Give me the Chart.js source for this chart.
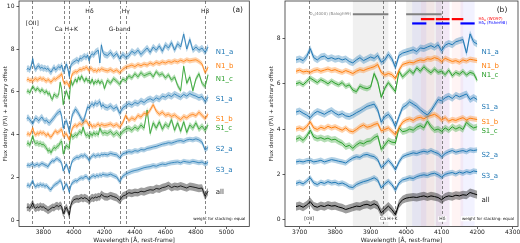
<!DOCTYPE html>
<html>
<head>
<meta charset="utf-8">
<script src="https://cdn.jsdelivr.net/npm/chart.js@4.4.0/dist/chart.umd.min.js"></script>
<style>
  html, body { margin: 0; padding: 0; background: #fff; width: 520px; height: 243px; overflow: hidden; position: relative; }
  #ca { position: absolute; left: 0; top: 0; }
  #cb { position: absolute; left: 258px; top: 0; }
</style>
</head>
<body>
<canvas id="ca" width="258" height="243"></canvas>
<canvas id="cb" width="270" height="243"></canvas>
<script>
// wavelength grid (rest-frame, Angstrom)
const wave = [
  3690,3700,3710,3720,3730,3740,3750,3760,3770,3780,
  3790,3800,3810,3820,3830,3840,3850,3860,3870,3880,
  3890,3900,3910,3920,3930,3940,3950,3960,3970,3980,
  3990,4000,4010,4020,4030,4040,4050,4060,4070,4080,
  4090,4100,4110,4120,4130,4140,4150,4160,4170,4180,
  4190,4200,
  4220,4240,4260,4280,4300,4320,4340,4360,4380,4400,
  4420,4440,4460,4480,4500,4520,4540,4560,4580,4600,
  4620,4640,4660,4680,4700,4720,4740,4760,4780,4800,
  4820,4840,4860,4880
];

// stacked spectra + offsets
const n1a = [
  7.05,7.10,7.02,7.20,7.55,7.15,7.05,7.18,7.22,7.10,
  7.15,7.08,7.12,7.05,7.10,6.98,6.92,7.05,7.15,7.02,
  7.10,7.18,7.12,7.25,6.95,7.05,7.30,7.10,6.72,7.25,
  7.35,7.40,7.45,7.50,7.42,7.58,7.55,7.62,7.68,7.60,
  7.72,7.45,7.70,7.78,7.72,7.85,7.90,7.95,7.35,8.20,
  7.85,7.75,
  7.70,7.85,7.65,7.80,7.55,7.75,7.62,7.70,7.90,7.80,
  7.95,7.75,7.90,8.05,7.85,8.10,7.95,8.15,7.90,8.20,
  8.05,8.30,7.95,8.25,8.10,8.70,8.00,8.45,7.95,8.10,
  7.95,8.05,7.85,8.10
];
const n1b = [
  6.55,6.60,6.52,6.55,6.50,6.58,6.62,6.55,6.60,6.65,
  6.58,6.62,6.55,6.50,6.58,6.52,6.45,6.55,6.62,6.58,
  6.65,6.70,6.75,6.85,6.50,6.38,6.45,6.40,6.22,6.60,
  6.85,6.90,6.95,6.92,7.00,7.05,7.02,7.10,7.08,7.15,
  7.10,6.98,7.12,7.05,6.98,7.02,6.95,7.05,7.00,7.08,
  7.05,7.02,
  6.98,7.05,6.95,7.02,6.90,7.05,7.15,7.20,7.25,7.18,
  7.28,7.22,7.30,7.25,7.35,7.28,7.38,7.32,7.40,7.35,
  7.42,7.38,7.45,7.40,7.48,7.42,7.50,7.45,7.48,7.50,
  7.42,7.30,6.90,7.15
];
const n1c = [
  6.00,6.05,5.95,6.10,6.25,6.15,6.05,6.18,6.10,6.00,
  6.12,6.02,5.95,6.05,5.88,5.95,5.72,5.65,5.90,5.82,
  5.78,5.85,6.45,6.10,5.40,5.80,6.05,5.85,5.65,6.55,
  6.30,6.45,6.60,6.45,6.70,6.55,6.75,6.60,6.48,6.65,
  6.50,6.55,6.40,6.60,6.35,6.50,6.42,6.55,6.38,6.50,
  6.45,6.15,
  6.55,6.40,6.62,6.50,6.35,6.60,6.52,6.75,6.65,6.85,
  6.70,6.90,6.75,6.82,6.88,6.70,6.95,6.78,6.85,6.65,
  6.80,6.55,6.70,6.30,6.05,7.20,6.40,6.70,6.05,6.60,
  6.85,6.40,6.25,6.80
];
const s1a = [
  4.75,4.80,4.70,4.62,4.50,4.68,4.78,4.72,4.65,4.75,
  4.82,4.70,4.62,4.68,4.58,4.55,4.62,4.72,4.80,4.90,
  5.00,5.05,5.10,4.85,4.30,4.55,4.65,4.45,4.10,4.55,
  4.95,5.05,5.20,5.10,5.00,4.85,4.72,4.62,4.80,5.05,
  5.30,5.25,5.38,5.45,5.35,5.50,5.42,5.48,5.55,5.30,
  5.40,5.30,
  5.25,5.35,5.20,5.30,5.00,5.25,5.35,5.45,5.38,5.50,
  5.45,5.58,5.50,5.62,5.68,5.60,5.72,5.65,5.80,5.75,
  5.85,5.78,5.90,5.82,5.75,5.88,5.80,5.92,5.85,5.80,
  5.72,5.78,5.55,5.75
];
const s1b = [
  4.00,4.05,3.98,4.10,4.32,4.05,3.98,4.08,4.02,4.12,
  4.05,4.10,4.02,3.95,4.05,3.92,3.88,3.98,4.10,4.18,
  4.08,4.12,4.20,4.25,3.92,3.98,4.05,3.90,3.75,4.05,
  4.30,4.40,4.45,4.38,4.48,4.52,4.45,4.55,4.60,4.65,
  4.55,4.40,4.50,4.35,4.42,4.38,4.45,4.50,4.40,4.48,
  4.45,4.42,
  4.45,4.50,4.40,4.48,4.35,4.55,4.90,4.65,4.78,4.70,
  4.90,4.82,5.00,4.95,5.15,5.40,5.10,4.95,5.05,4.90,
  4.95,4.85,4.92,4.80,4.70,4.85,4.78,4.90,4.95,4.88,
  5.05,4.90,4.75,4.95
];
const s1c = [
  3.55,3.62,3.50,3.68,3.95,3.65,3.58,3.62,3.55,3.60,
  3.52,3.55,3.45,3.38,3.22,3.28,3.15,3.30,3.40,3.35,
  3.45,3.48,3.62,3.70,3.10,3.30,3.50,3.42,3.40,4.05,
  3.88,3.92,4.00,3.95,4.08,4.15,4.05,4.35,4.10,3.95,
  4.00,3.90,4.05,3.95,4.10,4.00,4.08,3.98,4.30,4.15,
  4.05,4.10,
  4.05,4.15,3.98,4.10,3.95,4.15,4.25,4.30,4.20,4.35,
  4.25,4.45,4.30,5.15,4.05,4.55,4.30,4.60,4.25,4.50,
  4.35,4.70,4.20,4.55,4.15,4.60,4.10,4.45,4.30,4.55,
  4.25,4.40,4.20,4.45
];
const s2a = [
  2.55,2.58,2.55,2.60,2.62,2.55,2.58,2.62,2.55,2.60,
  2.65,2.62,2.58,2.55,2.50,2.62,2.72,2.78,2.75,2.85,
  2.88,2.82,2.78,2.65,2.30,2.45,2.62,2.45,2.20,2.55,
  2.78,2.85,2.90,2.95,2.92,2.98,3.02,2.98,3.05,2.98,
  2.92,2.78,2.92,3.00,3.05,2.98,3.02,3.05,3.00,3.08,
  3.05,3.08,
  3.05,3.12,3.08,3.05,2.92,3.10,3.15,3.20,3.18,3.25,
  3.22,3.30,3.28,3.35,3.38,3.42,3.45,3.50,3.55,3.58,
  3.62,3.60,3.65,3.70,3.72,3.68,3.75,3.78,3.75,3.80,
  3.75,3.65,3.28,3.40
];
const s3a = [
  1.60,1.65,1.58,1.70,1.85,1.62,1.55,1.65,1.60,1.68,
  1.62,1.65,1.58,1.62,1.55,1.45,1.42,1.55,1.62,1.68,
  1.72,1.78,1.85,1.75,1.40,1.58,1.70,1.55,1.30,1.62,
  1.75,1.80,1.85,1.82,1.90,1.95,1.98,1.95,2.02,2.05,
  1.98,1.88,2.00,2.05,2.08,2.02,2.10,2.05,2.12,2.08,
  2.15,2.12,
  2.10,2.15,2.08,2.02,1.80,2.05,2.15,2.22,2.28,2.32,
  2.35,2.40,2.45,2.48,2.50,2.55,2.52,2.58,2.62,2.60,
  2.65,2.68,2.70,2.72,2.68,2.75,2.72,2.70,2.75,2.72,
  2.68,2.72,2.62,2.70
];
const allStack = [
  0.58,0.62,0.55,0.65,0.80,0.60,0.55,0.62,0.58,0.65,
  0.60,0.62,0.56,0.52,0.45,0.50,0.55,0.60,0.58,0.65,
  0.68,0.62,0.70,0.62,0.30,0.45,0.60,0.45,0.22,0.70,
  0.88,0.95,0.98,1.00,0.98,1.02,1.05,1.00,1.05,1.02,
  0.98,0.88,1.00,1.05,1.02,1.08,1.05,1.10,1.08,1.20,
  1.15,1.10,
  1.08,1.15,1.10,1.05,0.92,1.12,1.18,1.28,1.25,1.30,
  1.28,1.35,1.32,1.38,1.42,1.40,1.48,1.45,1.52,1.55,
  1.62,1.52,1.58,1.55,1.60,1.55,1.50,1.58,1.55,1.52,
  1.48,1.50,1.12,1.35
];

const names = ['N1_a','N1_b','N1_c','S1_a','S1_b','S1_c','S2_a','S3_a','all'];
const spectra = [n1a, n1b, n1c, s1a, s1b, s1c, s2a, s3a, allStack];
const errHalf = [0.15, 0.12, 0.12, 0.15, 0.12, 0.14, 0.12, 0.12, 0.18];
const lineColors = ['#1f77b4','#ff7f0e','#2ca02c','#1f77b4','#ff7f0e','#2ca02c','#1f77b4','#1f77b4','#000000'];
const bandColors = ['rgba(31,119,180,0.35)','rgba(255,127,14,0.35)','rgba(44,160,44,0.35)',
                    'rgba(31,119,180,0.35)','rgba(255,127,14,0.35)','rgba(44,160,44,0.35)',
                    'rgba(31,119,180,0.35)','rgba(31,119,180,0.35)','rgba(0,0,0,0.38)'];

// where the name of each spectrum is written
const labelYA = [7.86, 7.20, 6.59, 5.64, 4.72, 4.31, 3.32, 2.34, 1.29];
const labelYB = [7.41, 6.78, 6.37, 4.96, 4.29, 3.92, 2.83, 1.91, 0.85];

// ticks
const xTicksA = [3800, 4000, 4200, 4400, 4600, 4800, 5000];
const yTicksA = [0, 2, 4, 6, 8, 10];
const xTicksB = [3700, 3800, 3900, 4000, 4100, 4200, 4300];
const yTicksB = [0, 2, 4, 6, 8];

// spectral features
const linesA = [3727, 3934, 3969, 4102, 4300, 4340, 4861];
const linesB = [3727, 3934, 3969, 4102];
const featA = [
  {t: '[OII]', x: 3727, y: 9.22}, {t: 'Ca H+K', x: 3951, y: 8.94}, {t: 'H\u03b4', x: 4102, y: 9.78},
  {t: 'G-band', x: 4300, y: 8.94}, {t: 'H\u03b3', x: 4340, y: 9.78}, {t: 'H\u03b2', x: 4861, y: 9.78}
];
const featB = [{t: '[OII]', x: 3727}, {t: 'Ca H+K', x: 3951}, {t: 'H\u03b4', x: 4102}];

// index windows
const balogh99 = [[3850, 3950], [4000, 4100]];
const wo97 = [[4041.6, 4079.75], [4083.5, 4122.25], [4128.5, 4161]];
const fisher98 = [[4017, 4057], [4083.5, 4122.25], [4153, 4193]];

const FONT = '"DejaVu Sans", sans-serif';
Chart.defaults.font.family = FONT;

function buildDatasets(maxW, lw) {
  const ds = [];
  spectra.forEach((vals, i) => {
    const keep = wave.map((w, j) => j).filter(j => wave[j] <= maxW);
    const hi = keep.map(j => ({x: wave[j], y: vals[j] + errHalf[i]}));
    const lo = keep.map(j => ({x: wave[j], y: vals[j] - errHalf[i]}));
    const mid = keep.map(j => ({x: wave[j], y: vals[j]}));
    ds.push({data: hi, borderColor: 'rgba(0,0,0,0)', borderWidth: 0, pointRadius: 0, fill: false, backgroundColor: bandColors[i]});
    ds.push({data: lo, borderColor: 'rgba(0,0,0,0)', borderWidth: 0, pointRadius: 0, fill: '-1', backgroundColor: bandColors[i]});
    ds.push({data: mid, borderColor: lineColors[i], borderWidth: lw, pointRadius: 0, fill: false});
  });
  return ds;
}

function boxText(ctx, text, x, y, size, color, align) {
  ctx.font = size + 'px ' + FONT;
  const w = ctx.measureText(text).width;
  const x0 = align === 'left' ? x : align === 'right' ? x - w : x - w / 2;
  ctx.fillStyle = '#fff';
  ctx.fillRect(x0 - 1, y - size * 0.62, w + 2, size * 1.24);
  ctx.fillStyle = color;
  ctx.textAlign = 'left';
  ctx.textBaseline = 'middle';
  ctx.fillText(text, x0, y);
}

function richText(ctx, parts, x, y, size, color, align) {
  let total = 0;
  parts.forEach(p => { ctx.font = (p.sub ? size * 0.7 : size) + 'px ' + FONT; total += ctx.measureText(p.t).width; });
  let cx = align === 'right' ? x - total : x;
  ctx.fillStyle = color;
  ctx.textAlign = 'left';
  ctx.textBaseline = 'middle';
  parts.forEach(p => {
    const s = p.sub ? size * 0.7 : size;
    ctx.font = s + 'px ' + FONT;
    ctx.fillText(p.t, cx, p.sub ? y + size * 0.3 : y);
    cx += ctx.measureText(p.t).width;
  });
}

function decor(cfg) {
  return {
    id: 'decor' + cfg.tag,
    beforeDatasetsDraw(chart) {
      const {ctx, chartArea: a, scales: {x}} = chart;
      ctx.save();
      ctx.beginPath();
      ctx.rect(a.left, a.top, a.right - a.left, a.bottom - a.top);
      ctx.clip();
      (cfg.spans || []).forEach(s => {
        ctx.fillStyle = s.color;
        s.ranges.forEach(r => {
          const x0 = x.getPixelForValue(r[0]), x1 = x.getPixelForValue(r[1]);
          ctx.fillRect(x0, a.top, x1 - x0, a.bottom - a.top);
        });
      });
      ctx.strokeStyle = '#666';
      ctx.lineWidth = 0.8;
      ctx.setLineDash([3, 2]);
      cfg.lines.forEach(w => {
        const px = Math.round(x.getPixelForValue(w)) + 0.5;
        ctx.beginPath();
        ctx.moveTo(px, a.top);
        ctx.lineTo(px, a.bottom);
        ctx.stroke();
      });
      ctx.restore();
    },
    afterDatasetsDraw(chart) {
      const {ctx, chartArea: a, scales: {x, y}} = chart;
      ctx.save();
      cfg.feats.forEach(f => boxText(ctx, f.t, x.getPixelForValue(f.x), y.getPixelForValue(f.y), cfg.featSize, '#222', 'center'));
      names.forEach((n, i) => {
        ctx.font = '7px ' + FONT;
        ctx.fillStyle = lineColors[i] === '#000000' ? '#222' : lineColors[i];
        ctx.textAlign = 'left';
        ctx.textBaseline = 'middle';
        ctx.fillText(n, x.getPixelForValue(cfg.labelX), y.getPixelForValue(cfg.labelY[i]));
      });
      (cfg.bars || []).forEach(b => {
        ctx.strokeStyle = b.color;
        ctx.lineWidth = b.width;
        const py = y.getPixelForValue(b.y);
        b.ranges.forEach(r => {
          ctx.beginPath();
          ctx.moveTo(x.getPixelForValue(r[0]), py);
          ctx.lineTo(x.getPixelForValue(r[1]), py);
          ctx.stroke();
        });
      });
      (cfg.rich || []).forEach(r => richText(ctx, r.parts, x.getPixelForValue(r.x), y.getPixelForValue(r.y), r.size, r.color, r.align));
      boxText(ctx, 'weight for stacking: equal', a.right - 4, a.bottom - 7.8, 4, '#111', 'right');
      ctx.font = '7.5px ' + FONT;
      ctx.fillStyle = '#222';
      ctx.textAlign = 'center';
      ctx.textBaseline = 'middle';
      ctx.fillText(cfg.tag, a.right - cfg.tagDx, a.top + 9);
      ctx.strokeStyle = '#333';
      ctx.lineWidth = 0.8;
      ctx.strokeRect(a.left, a.top, a.right - a.left, a.bottom - a.top);
      ctx.restore();
    }
  };
}

function makeChart(canvas, cfg) {
  return new Chart(canvas, {
    type: 'line',
    data: {datasets: buildDatasets(cfg.maxW, cfg.lw)},
    options: {
      responsive: false,
      animation: false,
      devicePixelRatio: 1,
      layout: {padding: cfg.pad},
      elements: {line: {tension: 0}},
      plugins: {legend: {display: false}, tooltip: {enabled: false}},
      scales: {
        x: {
          type: 'linear', min: cfg.xMin, max: cfg.xMax,
          afterBuildTicks: s => { s.ticks = cfg.xTicks.map(v => ({value: v})); },
          afterFit: s => { s.height = 16.5; s.paddingLeft = 0; s.paddingRight = 0; },
          grid: {display: true, drawOnChartArea: false, drawTicks: true, tickLength: 2.5, color: '#333', lineWidth: 0.8},
          border: {display: false},
          ticks: {font: {size: 6}, color: '#222', padding: 0, maxRotation: 0, autoSkip: false, callback: v => String(v)},
          title: {display: true, text: 'Wavelength [\u00c5, rest-frame]', font: {size: 6, lineHeight: 1}, color: '#222', padding: {top: 0, bottom: 0}}
        },
        y: {
          type: 'linear', min: cfg.yMin, max: cfg.yMax,
          afterBuildTicks: s => { s.ticks = cfg.yTicks.map(v => ({value: v})); },
          afterFit: s => { s.width = cfg.yWidth; s.paddingTop = 0; s.paddingBottom = 0; },
          grid: {display: true, drawOnChartArea: false, drawTicks: true, tickLength: 2.5, color: '#333', lineWidth: 0.8},
          border: {display: false},
          ticks: {font: {size: 6}, color: '#222', padding: 2, callback: v => String(v)},
          title: {display: true, text: 'Flux density (F\u03bb) + arbitrary offset', font: {size: 5.5, lineHeight: 1.2}, color: '#222', padding: {top: cfg.yTitlePad, bottom: 0}}
        }
      }
    },
    plugins: [decor(cfg)]
  });
}

makeChart(document.getElementById('ca'), {
  tag: '(a)', tagDx: 11.5, maxW: 5000, lw: 0.8,
  pad: {left: 0, right: 8.7, top: 1, bottom: 0},
  xMin: 3640, xMax: 5150, yMin: -0.3, yMax: 10.25,
  xTicks: xTicksA, yTicks: yTicksA, yWidth: 19, yTitlePad: 2.5,
  lines: linesA, feats: featA, featSize: 6,
  labelX: 4930, labelY: labelYA
});

makeChart(document.getElementById('cb'), {
  tag: '(b)', tagDx: 16, maxW: 4200, lw: 1,
  pad: {left: 0, right: 10, top: 1, bottom: 0},
  xMin: 3659, xMax: 4315, yMin: -0.3, yMax: 9.65,
  xTicks: xTicksB, yTicks: yTicksB, yWidth: 27, yTitlePad: 10.4,
  lines: linesB,
  feats: featB.map(f => ({t: f.t, x: f.x, y: 0.03})), featSize: 4.5,
  labelX: 4212, labelY: labelYB,
  spans: [
    {ranges: balogh99, color: 'rgba(0,0,0,0.06)'},
    {ranges: wo97, color: 'rgba(255,0,0,0.045)'},
    {ranges: fisher98, color: 'rgba(0,0,255,0.05)'}
  ],
  bars: [
    {ranges: balogh99, y: 9.06, color: '#808080', width: 2},
    {ranges: wo97, y: 8.85, color: '#ff0000', width: 2.2},
    {ranges: fisher98, y: 8.66, color: '#0000ff', width: 2.2}
  ],
  rich: [
    {parts: [{t: 'D'}, {t: 'n', sub: true}, {t: '(4000) (Balogh99)'}], x: 3845, y: 9.06, size: 4, color: '#808080', align: 'right'},
    {parts: [{t: 'H\u03b4'}, {t: 'A', sub: true}, {t: ' (WO97)'}], x: 4204, y: 8.85, size: 4, color: '#ff0000', align: 'left'},
    {parts: [{t: 'H\u03b4'}, {t: 'F', sub: true}, {t: ' (Fisher98)'}], x: 4204, y: 8.66, size: 4, color: '#0000ff', align: 'left'}
  ]
});
</script>
</body>
</html>
